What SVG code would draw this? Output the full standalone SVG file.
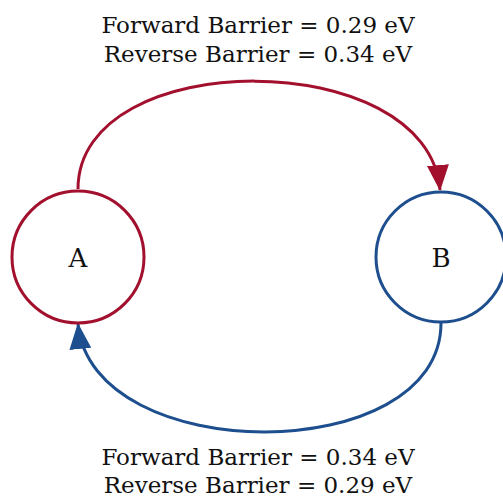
<svg xmlns="http://www.w3.org/2000/svg" width="503" height="497" viewBox="0 0 503 497">
<style>
.t{font-family:"DejaVu Serif","Liberation Serif",serif;font-size:23px;fill:#111;text-anchor:middle}
.lbl{font-family:"DejaVu Serif","Liberation Serif",serif;font-size:26px;fill:#111;text-anchor:middle}
.red{stroke:#a2102e;stroke-width:3;fill:none}
.blue{stroke:#1d4e8d;stroke-width:3;fill:none}
</style>
<defs>
<marker id="ar" markerUnits="userSpaceOnUse" markerWidth="26" markerHeight="22" refX="25" refY="11" orient="auto"><path d="M0,0 L26,11 L0,22 Z" fill="#a2102e"/></marker>
<marker id="ab" markerUnits="userSpaceOnUse" markerWidth="26" markerHeight="22" refX="25" refY="11" orient="auto"><path d="M0,0 L26,11 L0,22 Z" fill="#1d4e8d"/></marker>
</defs>
<g id="connectors">
<path class="red" d="M78,189 C78,45 428,45 440,190" marker-end="url(#ar)"/>
<path class="blue" d="M441,323 C441,468 92,468 78,324" marker-end="url(#ab)"/>
</g>
<g id="nodeA">
<circle class="red" cx="78" cy="257" r="66" fill="#fff"/>
<text class="lbl" x="78" y="267">A</text>
</g>
<g id="nodeB">
<circle class="blue" cx="441" cy="257" r="65" fill="#fff"/>
<text class="lbl" x="441" y="267">B</text>
</g>
<g id="labels">
<text class="t" x="258" y="33">Forward Barrier = 0.29 eV</text>
<text class="t" x="258" y="62">Reverse Barrier = 0.34 eV</text>
<text class="t" x="258" y="465">Forward Barrier = 0.34 eV</text>
<text class="t" x="258" y="493">Reverse Barrier = 0.29 eV</text>
</g>
</svg>
